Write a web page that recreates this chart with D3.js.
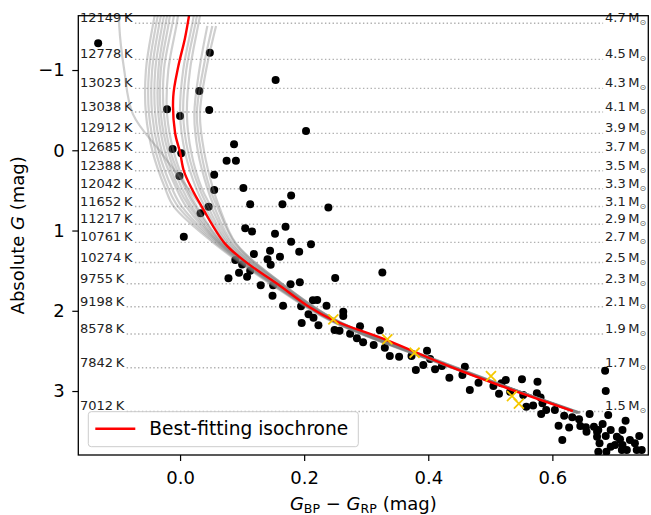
<!DOCTYPE html>
<html>
<head>
<meta charset="utf-8">
<script src="https://cdn.jsdelivr.net/npm/d3@7"></script>
<style>
body { margin: 0; background: #fff; }
text { font-family: "DejaVu Sans", sans-serif; }
</style>
</head>
<body>
<div id="chart-area"></div>
<script>
// observed stars (colour, absolute G)
var starColor = [-0.132, 0.048, 0.154, 0.031, -0.021, 0.0, 0.047, 0.203, -0.012, 0.002,
    0.087, 0.075, 0.090, -0.001, 0.055, 0.055, 0.102, 0.113, 0.165, 0.179,
    0.239, 0.046, 0.033, 0.006, 0.105, 0.116, 0.153, 0.170, 0.179, 0.211,
    0.145, 0.192, 0.119, 0.161, 0.141, 0.146, 0.089, 0.100, 0.113, 0.095,
    0.108, 0.078, 0.130, 0.150, 0.178, 0.193, 0.250, 0.326, 0.149, 0.166,
    0.195, 0.214, 0.221, 0.236, 0.207, 0.215, 0.223, 0.196, 0.263, 0.263,
    0.249, 0.257, 0.274, 0.290, 0.285, 0.295, 0.312, 0.322, 0.330, 0.338,
    0.353, 0.373, 0.398, 0.380, 0.392, 0.403, 0.411, 0.422, 0.434, 0.459,
    0.455, 0.467, 0.481, 0.505, 0.514, 0.518, 0.525, 0.551, 0.576, 0.532,
    0.553, 0.558, 0.575, 0.581, 0.569, 0.584, 0.590, 0.582, 0.604, 0.619,
    0.632, 0.610, 0.627, 0.616, 0.643, 0.645, 0.654, 0.655, 0.660, 0.667,
    0.672, 0.685, 0.686, 0.690, 0.718, 0.681, 0.674, 0.694, 0.713, 0.672,
    0.676, 0.686, 0.704, 0.701, 0.709, 0.713, 0.720, 0.725, 0.733, 0.740,
    0.744, 0.674, 0.687, 0.694, 0.736, 0.712];
var starMag = [-1.333, -1.216, -0.875, -0.738, -0.510, -0.427, -0.502, -0.240, -0.016, 0.038,
    -0.074, 0.130, 0.130, 0.321, 0.306, 0.495, 0.470, 0.672, 0.672, 0.564,
    0.713, 0.703, 0.786, 1.077, 0.973, 1.012, 1.040, 0.953, 1.141, 1.172,
    1.252, 1.264, 1.293, 1.327, 1.359, 1.427, 1.368, 1.424, 1.501, 1.526,
    1.576, 1.596, 1.682, 1.683, 1.669, 1.644, 1.592, 1.523, 1.812, 1.937,
    1.945, 1.870, 1.866, 1.938, 2.043, 2.088, 2.180, 2.153, 2.012, 2.065,
    2.240, 2.249, 2.286, 2.194, 2.343, 2.393, 2.427, 2.244, 2.460, 2.564,
    2.573, 2.564, 2.498, 2.738, 2.676, 2.601, 2.730, 2.688, 2.835, 2.697,
    2.801, 2.988, 2.897, 2.938, 3.034, 2.904, 2.863, 2.854, 2.884, 3.009,
    3.050, 3.197, 3.029, 3.081, 3.181, 3.153, 3.237, 3.287, 3.237, 3.308,
    3.328, 3.432, 3.455, 3.611, 3.353, 3.436, 3.452, 3.507, 3.287, 3.445,
    3.507, 2.747, 3.000, 3.299, 3.370, 3.411, 3.486, 3.486, 3.486, 3.569,
    3.652, 3.561, 3.569, 3.673, 3.602, 3.673, 3.735, 3.611, 3.652, 3.561,
    3.735, 3.757, 3.757, 3.694, 3.735, 3.735];

// highlighted stars
var markColor = [0.247, 0.334, 0.378, 0.501, 0.535, 0.546];
var markMag = [2.107, 2.356, 2.523, 2.813, 3.062, 3.156];

// best-fitting isochrone
var bestMag = [-1.75, -1.40, -1.04, -0.667, -0.215, 0.026, 0.255, 0.474, 0.703, 1.16,
    1.409, 1.66, 1.957, 2.115, 2.365, 2.676, 2.988, 3.249];
var bestColor = [0.016, 0.008, -0.003, -0.011, -0.008, 0.0, 0.006, 0.0185, 0.035, 0.072,
    0.109, 0.156, 0.209, 0.246, 0.333, 0.429, 0.536, 0.633];

// sampled isochrones, all on the same magnitude grid
var sampleMag = [-1.75, -1.55, -1.0, -0.45, 0.026, 0.474, 0.703, 1.16, 1.66, 2.115, 2.676, 3.27];
var sampleColor = [
    [-0.039, -0.044, -0.055, -0.055, -0.044, -0.024, -0.010, 0.055, 0.145, 0.240, 0.425, 0.645],
    [-0.034, -0.039, -0.050, -0.050, -0.039, -0.019, -0.003, 0.058, 0.147, 0.242, 0.427, 0.645],
    [-0.029, -0.034, -0.045, -0.045, -0.034, -0.013, 0.003, 0.061, 0.148, 0.242, 0.427, 0.645],
    [-0.024, -0.029, -0.040, -0.040, -0.029, -0.006, 0.010, 0.063, 0.150, 0.243, 0.427, 0.643],
    [-0.019, -0.024, -0.035, -0.035, -0.024, -0.002, 0.015, 0.064, 0.151, 0.243, 0.429, 0.643],
    [-0.015, -0.019, -0.031, -0.031, -0.019, 0.003, 0.019, 0.066, 0.153, 0.245, 0.429, 0.643],
    [-0.008, -0.013, -0.026, -0.026, -0.015, 0.008, 0.024, 0.068, 0.153, 0.245, 0.429, 0.641],
    [-0.002, -0.006, -0.019, -0.021, -0.010, 0.011, 0.027, 0.069, 0.155, 0.247, 0.430, 0.641],
    [0.024, 0.019, 0.005, 0.0, 0.008, 0.026, 0.040, 0.076, 0.158, 0.248, 0.430, 0.641],
    [0.029, 0.024, 0.010, 0.005, 0.013, 0.031, 0.045, 0.079, 0.160, 0.248, 0.432, 0.641],
    [0.034, 0.029, 0.016, 0.011, 0.018, 0.035, 0.050, 0.082, 0.161, 0.250, 0.432, 0.640],
    [null, 0.044, 0.031, 0.023, 0.029, 0.044, 0.055, 0.085, 0.163, 0.250, 0.434, 0.640],
    [null, 0.052, 0.037, 0.027, 0.034, 0.048, 0.060, 0.089, 0.164, 0.251, 0.434, 0.640],
    [null, 0.058, 0.042, 0.032, 0.039, 0.053, 0.063, 0.090, 0.164, 0.251, 0.435, 0.638],
    [-0.098, -0.098, -0.090, -0.076, -0.031, 0.013, 0.034, 0.073, 0.155, 0.247, 0.429, 0.641]
];

// temperature / mass reference levels
var refMag = [-1.582, -1.133, -0.772, -0.477, -0.211, 0.026, 0.255, 0.479, 0.701, 0.921,
    1.147, 1.399, 1.664, 1.950, 2.290, 2.710, 3.255];
var refTemp = ["12149", "12778", "13023", "13038", "12912", "12685", "12388", "12042", "11652", "11217",
    "10761", "10274", "9755", "9198", "8578", "7842", "7012"];
var refMass = ["4.7", "4.5", "4.3", "4.1", "3.9", "3.7", "3.5", "3.3", "3.1", "2.9",
    "2.7", "2.5", "2.3", "2.1", "1.9", "1.7", "1.5"];

var xTicks = [0.0, 0.2, 0.4, 0.6];
var yTicks = [-1, 0, 1, 2, 3];

var margin = { left: 78.3, right: 2.7, top: 15.7, bottom: 60 },
    width = 651 - margin.left - margin.right,
    height = 515 - margin.top - margin.bottom;

var svg = d3.select("#chart-area").append("svg")
    .attr("width", 651)
    .attr("height", 515);

var g = svg.append("g")
    .attr("transform", "translate(" + margin.left + "," + margin.top + ")");

var x = d3.scaleLinear().domain([-0.164, 0.7546]).range([0, width]);
var y = d3.scaleLinear().domain([-1.677, 3.797]).range([0, height]);

g.append("clipPath").attr("id", "clip")
  .append("rect").attr("width", width).attr("height", height);

// reference levels: dotted line between temperature and mass labels
refMag.forEach(function(m, i) {
    var row = g.append("g");
    var left = row.append("text")
        .attr("x", 1.7)
        .attr("y", y(m) - 1)
        .attr("font-size", 13)
        .attr("fill", "#222")
        .text(refTemp[i] + "\u2009K");
    var right = row.append("text")
        .attr("x", width - 2)
        .attr("y", y(m) - 1)
        .attr("font-size", 13)
        .attr("fill", "#222")
        .attr("text-anchor", "end");
    right.append("tspan").text(refMass[i] + "\u2009M");
    right.append("tspan")
        .attr("font-size", 8)
        .attr("dy", 3)
        .attr("fill", "#555")
        .text("\u2299");
    var x0 = left.node().getBBox().x + left.node().getBBox().width + 2;
    var x1 = right.node().getBBox().x - 2;
    row.insert("line", "text")
        .attr("x1", x0).attr("x2", x1)
        .attr("y1", y(m)).attr("y2", y(m))
        .attr("stroke", "#b0b0b0")
        .attr("stroke-width", 1.4)
        .attr("stroke-dasharray", "1.4,2.4");
});

var plot = g.append("g").attr("clip-path", "url(#clip)");

plot.selectAll(".star")
    .data(starColor)
    .enter().append("circle")
      .attr("class", "star")
      .attr("cx", function(d) { return x(d); })
      .attr("cy", function(d, i) { return y(starMag[i]); })
      .attr("r", 4)
      .attr("fill", "black");

var line = d3.line()
    .defined(function(d) { return d[0] != null; })
    .x(function(d) { return x(d[0]); })
    .y(function(d) { return y(d[1]); })
    .curve(d3.curveCatmullRom.alpha(0.5));

sampleColor.forEach(function(cols) {
    var pts = cols.map(function(c, i) { return [c, sampleMag[i]]; });
    plot.append("path")
        .attr("d", line(pts))
        .attr("fill", "none")
        .attr("stroke", "#808080")
        .attr("stroke-opacity", 0.38)
        .attr("stroke-width", 2.2);
});

plot.append("path")
    .attr("d", line(bestColor.map(function(c, i) { return [c, bestMag[i]]; })))
    .attr("fill", "none")
    .attr("stroke", "red")
    .attr("stroke-width", 2.4);

plot.selectAll(".mark")
    .data(markColor)
    .enter().append("path")
      .attr("class", "mark")
      .attr("transform", function(d, i) { return "translate(" + x(d) + "," + y(markMag[i]) + ")"; })
      .attr("d", "M-5,-5L5,5M-5,5L5,-5")
      .attr("stroke", "#f5c800")
      .attr("stroke-width", 1.8);

// axes
var xAxis = g.append("g")
    .attr("transform", "translate(0," + height + ")")
    .call(d3.axisBottom(x).tickValues(xTicks).tickFormat(d3.format(".1f")).tickSize(6).tickPadding(10.5));
var yAxis = g.append("g")
    .call(d3.axisLeft(y).tickValues(yTicks)
        .tickFormat(function(d) { return d < 0 ? "\u2212" + Math.abs(d) : d; })
        .tickSize(6).tickPadding(7.5));
[xAxis, yAxis].forEach(function(a) {
    a.select(".domain").remove();
    a.selectAll("line").attr("stroke", "black").attr("stroke-width", 1.2);
    a.selectAll("text").attr("font-size", 18).attr("fill", "black")
        .attr("font-family", "DejaVu Sans, sans-serif");
});

g.append("rect")
    .attr("width", width)
    .attr("height", height)
    .attr("fill", "none")
    .attr("stroke", "black")
    .attr("stroke-width", 1.3);

// legend
var legend = g.append("g").attr("transform", "translate(10,396)");
legend.append("rect")
    .attr("width", 270)
    .attr("height", 35)
    .attr("rx", 3)
    .attr("fill", "white")
    .attr("fill-opacity", 0.8)
    .attr("stroke", "#cccccc");
legend.append("line")
    .attr("x1", 7).attr("x2", 47)
    .attr("y1", 17).attr("y2", 17)
    .attr("stroke", "red")
    .attr("stroke-width", 2.4);
legend.append("text")
    .attr("x", 61)
    .attr("y", 23.5)
    .attr("font-size", 18.6)
    .text("Best-fitting isochrone");

// axis labels
var xl = svg.append("text")
    .attr("x", margin.left + width / 2)
    .attr("y", 510)
    .attr("text-anchor", "middle")
    .attr("font-size", 18);
xl.append("tspan").attr("font-style", "italic").text("G");
xl.append("tspan").attr("font-size", 12.6).attr("dy", 3).text("BP");
xl.append("tspan").attr("dy", -3).text(" \u2212 ");
xl.append("tspan").attr("font-style", "italic").text("G");
xl.append("tspan").attr("font-size", 12.6).attr("dy", 3).text("RP");
xl.append("tspan").attr("dy", -3).text(" (mag)");

var yl = svg.append("text")
    .attr("transform", "translate(24," + (margin.top + height / 2) + ") rotate(-90)")
    .attr("text-anchor", "middle")
    .attr("font-size", 18);
yl.append("tspan").text("Absolute ");
yl.append("tspan").attr("font-style", "italic").text("G");
yl.append("tspan").text(" (mag)");
</script>
</body>
</html>
